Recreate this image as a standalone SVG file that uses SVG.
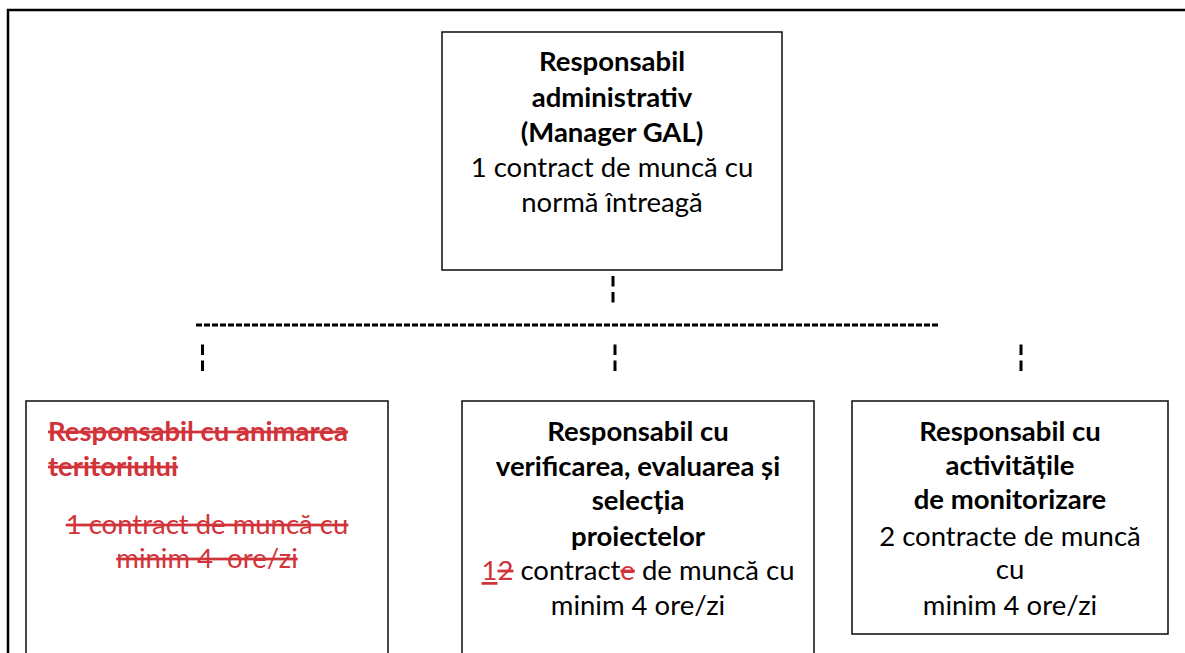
<svg xmlns="http://www.w3.org/2000/svg" width="1185" height="653" viewBox="0 0 1185 653">
<style>
.box{fill:#fff;stroke:#1a1a1a;stroke-width:1.6}
.t{font-family:Lato,"Open Sans","Liberation Sans",sans-serif;font-size:27.5px;fill:#000;text-anchor:middle}
.b{font-weight:bold}
.red{fill:#d1333b}
.s{text-decoration:line-through}
.u{text-decoration:underline}
.dv{stroke:#000;stroke-width:3;stroke-dasharray:10.5 5.5}
.dh{stroke:#000;stroke-width:2.8;stroke-dasharray:6 2}
</style>
<rect width="1185" height="653" fill="#fff"/>
<path d="M8,653 V10 H1185" fill="none" stroke="#000" stroke-width="2.5"/>
<g id="connectors">
<line class="dv" x1="613" y1="276" x2="613" y2="303"/>
<line class="dh" x1="196" y1="325" x2="940" y2="325"/>
<line class="dv" x1="202.5" y1="344.5" x2="202.5" y2="372"/>
<line class="dv" x1="615" y1="344.5" x2="615" y2="372"/>
<line class="dv" x1="1021" y1="344.5" x2="1021" y2="372"/>
</g>
<g id="manager">
<rect class="box" x="442" y="32" width="340" height="238"/>
<text class="t b" x="612" y="71">Responsabil</text>
<text class="t b" x="612" y="107">administrativ</text>
<text class="t b" x="612" y="142">(Manager GAL)</text>
<text class="t" x="612" y="177">1 contract de muncă cu</text>
<text class="t" x="612" y="212">normă întreagă</text>
</g>
<g id="animare">
<rect class="box" x="26" y="401" width="362" height="260"/>
<text class="t b red s" x="48" y="441" style="text-anchor:start">Responsabil cu animarea</text>
<text class="t b red s" x="48" y="476" style="text-anchor:start">teritoriului</text>
<text class="t red s" x="207" y="534">1 contract de muncă cu</text>
<text class="t red s" x="207" y="568" xml:space="preserve">minim 4  ore/zi</text>
</g>
<g id="verificare">
<rect class="box" x="462" y="401" width="352" height="260"/>
<text class="t b" x="638" y="441">Responsabil cu</text>
<text class="t b" x="638" y="476">verificarea, evaluarea și</text>
<text class="t b" x="638" y="510">selecția</text>
<text class="t b" x="638" y="546">proiectelor</text>
<text class="t" x="638" y="580"><tspan class="red u">1</tspan><tspan class="red s">2</tspan> contract<tspan class="red s">e</tspan> de muncă cu</text>
<text class="t" x="638" y="615">minim 4 ore/zi</text>
</g>
<g id="monitorizare">
<rect class="box" x="852" y="401" width="316" height="233"/>
<text class="t b" x="1010" y="441">Responsabil cu</text>
<text class="t b" x="1010" y="475">activitățile</text>
<text class="t b" x="1010" y="509">de monitorizare</text>
<text class="t" x="1010" y="546">2 contracte de muncă</text>
<text class="t" x="1010" y="579">cu</text>
<text class="t" x="1010" y="615">minim 4 ore/zi</text>
</g>
</svg>
